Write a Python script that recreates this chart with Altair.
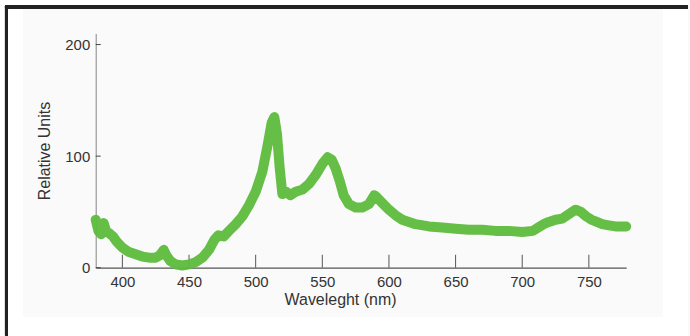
import altair as alt
import pandas as pd

# Emission spectrum (wavelength in nm, intensity in relative units)
wavelength = [380, 382, 384, 386, 388, 390, 393, 396, 400, 405, 410, 415, 420, 425,
              428, 431, 433, 436, 440, 445, 450, 455, 460, 465, 469, 472, 476, 480,
              485, 490, 495, 500, 505, 509, 512, 514, 516, 518, 520, 523, 526, 530,
              535, 540, 545, 550, 554, 557, 560, 563, 566, 570, 575, 580, 585, 589,
              591, 595, 600, 605, 610, 615, 620, 630, 640, 650, 660, 670, 680, 690,
              700, 708, 712, 716, 720, 725, 730, 735, 740, 744, 748, 752, 756, 760,
              765, 770, 775, 778]
intensity = [43, 33, 30, 40, 32, 31, 28, 23, 18, 14, 12, 10, 9, 9,
             11, 16, 11, 6, 3, 2, 3, 5, 9, 16, 25, 29, 28, 33,
             39, 46, 56, 68, 86, 110, 130, 135, 120, 90, 66, 68, 65, 68,
             70, 75, 83, 93, 99, 97, 89, 78, 65, 57, 54, 54, 57, 65,
             63, 58, 52, 47, 43, 41, 39, 37, 36, 35, 34, 34, 33, 33,
             32, 33, 36, 39, 41, 43, 44, 48, 52, 50, 46, 43, 41, 39,
             38, 37, 37, 37]

x_ticks = [400, 450, 500, 550, 600, 650, 700, 750]
y_ticks = [0, 100, 200]

W, H = 532, 235
# page offset of the plot area (the white page strips span the full 690x336 page)
OX, OY = 96, 33

spec = pd.DataFrame({"nm": wavelength, "val": intensity})
xt = pd.DataFrame({"nm": x_ticks})
yt = pd.DataFrame({"val": y_ticks})

xs = alt.Scale(domain=[380, 778], nice=False, zero=False)
ys = alt.Scale(domain=[0, 210], nice=False)

FONT = "Liberation Sans"
GREEN = "#5dba3b"


def strip(x0, x1, y0, y1):
    """White page strip given in page pixels."""
    return alt.Chart(xt).mark_rect(color="white").encode(
        x=alt.value(x0 - OX), x2=alt.value(x1 - OX),
        y=alt.value(y0 - OY), y2=alt.value(y1 - OY)
    )


margins = [
    strip(0, 23, 0, 336),
    strip(665, 690, 0, 336),
    strip(0, 690, 0, 8),
    strip(0, 690, 318, 336),
]
border_left = alt.Chart(xt).mark_rule(color="#222222", strokeWidth=3).encode(
    x=alt.value(6.5 - OX), y=alt.value(5 - OY), y2=alt.value(336 - OY)
)
border_top = alt.Chart(xt).mark_rule(color="#222222", strokeWidth=3).encode(
    y=alt.value(6.5 - OY), x=alt.value(5 - OX), x2=alt.value(690 - OX)
)

# inward tick marks
x_tick_marks = alt.Chart(xt).mark_rule(color="#555555", strokeWidth=1).encode(
    x=alt.X("nm:Q", scale=xs, axis=None), y=alt.value(H - 13), y2=alt.value(H)
)
y_tick_marks = alt.Chart(yt).mark_rule(color="#444444", strokeWidth=1).encode(
    y=alt.Y("val:Q", scale=ys, axis=None), x=alt.value(0), x2=alt.value(5)
)

line = alt.Chart(spec).mark_line(
    color=GREEN, strokeWidth=10, strokeCap="round", strokeJoin="round", opacity=0.95
).encode(
    x=alt.X("nm:Q", scale=xs,
            axis=alt.Axis(values=x_ticks, title="Waveleght (nm)", ticks=False,
                          domainColor="#555555", labelPadding=7,
                          titleX=245, titlePadding=2)),
    y=alt.Y("val:Q", scale=ys,
            axis=alt.Axis(values=y_ticks, title="Relative Units", ticks=False,
                          domainColor="#999999", labelPadding=6,
                          titlePadding=12)),
)

chart = alt.layer(
    *margins, border_left, border_top, x_tick_marks, y_tick_marks, line
).resolve_axis(
    x="independent", y="independent"
).properties(
    width=W, height=H,
    padding=0,
    background="#fafafa",
).configure_view(
    stroke=None
).configure_axis(
    labelFont=FONT, titleFont=FONT, labelFontSize=15, titleFontSize=16,
    labelColor="#333333", titleColor="#333333", titleFontWeight="normal",
    grid=False, domainWidth=1.2,
)

chart.save("out.html", embed_options={"renderer": "svg", "actions": False})
